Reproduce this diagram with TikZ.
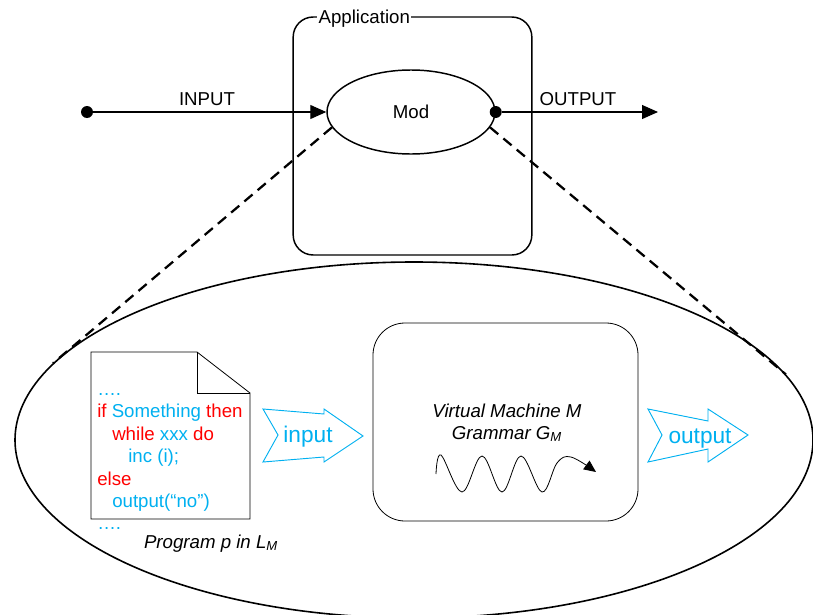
\documentclass[tikz,border=0pt]{standalone}
\usepackage{fontspec}
\setmainfont{Liberation Sans}
\usetikzlibrary{shapes.geometric,arrows.meta}
\definecolor{codered}{RGB}{255,0,0}
\definecolor{codeblue}{RGB}{0,176,240}

\begin{document}
\begin{tikzpicture}[x=0.75pt,y=-0.75pt,
    txt/.style={font=\fontsize{14}{16}\selectfont,inner sep=0pt},
    bigtxt/.style={font=\fontsize{17}{19}\selectfont,inner sep=0pt,text=codeblue},
    dot/.style={circle,fill,inner sep=0pt,minimum size=9pt},
    flow/.style={line width=0.8pt,-{Triangle[length=12pt,width=10.5pt]}},
    zoomline/.style={line width=1.7pt,dash pattern=on 8pt off 5pt},
    blockarrow/.style={draw=codeblue,line width=0.7pt,line join=miter}]
    \useasboundingbox (0,0) rectangle (813,614);
    % Application and its module
    \node[draw,line width=1.1pt,rounded corners=15pt,minimum width=179pt,
        minimum height=178.5pt,inner sep=0pt] (app) at (412.5,136) {};
    \node[txt,fill=white,inner xsep=1pt,inner ysep=1pt,anchor=base west] (applbl) at (317,23) {Application};
    \node[draw,ellipse,line width=1.1pt,minimum width=126pt,minimum height=63pt,
        inner sep=0pt] (mod) at (411,112) {};
    \node[txt,anchor=base] (modlbl) at (411,118) {Mod};
    % Input and output
    \node[dot] (indot) at (87,112) {};
    \node[dot] (outdot) at (mod.east) {};
    \coordinate (outend) at (658,112);
    \draw[flow] (indot) -- (mod.west);
    \draw[flow] (outdot) -- (outend);
    \node[txt,anchor=base] (inlbl) at (207,105) {INPUT};
    \node[txt,anchor=base] (outlbl) at (578,105) {OUTPUT};
    % Zoomed view of the module
    \node[draw,ellipse,line width=1.2pt,minimum width=598.5pt,minimum height=267pt,
        inner sep=0pt] (big) at (414,440) {};
    \draw[zoomline] (mod.191) -- (big.168);
    \draw[zoomline] (mod.-11) -- (big.10);
    % Program sheet
    \draw[line width=0.6pt] (91,352) -- (197,352) -- (250,393) -- (250,519) -- (91,519) -- cycle;
    \draw[line width=0.6pt] (197,352) -- (197,393) -- (250,393);
    \node[txt,anchor=base west,text=codeblue] (l1) at (97,395) {….};
    \node[txt,anchor=base west] (l2) at (97,417) {\color{codered}if \color{codeblue}Something \color{codered}then};
    \node[txt,anchor=base west] (l3) at (112,440) {\color{codered}while \color{codeblue}xxx \color{codered}do};
    \node[txt,anchor=base west,text=codeblue] (l4) at (128,462) {inc (i);};
    \node[txt,anchor=base west,text=codered] (l5) at (97,485) {else};
    \node[txt,anchor=base west,text=codeblue] (l6) at (112,507) {output(“no”)};
    \node[txt,anchor=base west,text=codeblue] (l7) at (97,529) {….};
    \node[txt,anchor=base] (proglbl) at (211,548) {\textit{Program p in L}\textsubscript{\textit{M}}};
    % Block arrows
    \draw[blockarrow] (263,409) -- (324,414) -- (324,409) -- (363,436) -- (324,462)
        -- (324,457) -- (263,462) -- (278,435) -- cycle;
    \node[bigtxt,anchor=base] (inarrow) at (308,442) {input};
    \draw[blockarrow] (648,409) -- (708,421) -- (708,409) -- (748,435) -- (708,462)
        -- (708,449) -- (648,462) -- (662,435) -- cycle;
    \node[bigtxt,anchor=base] (outarrow) at (700,443) {output};
    % Virtual machine
    \node[draw,line width=0.6pt,rounded corners=24pt,minimum width=198.75pt,
        minimum height=148.5pt,inner sep=0pt] (vm) at (505.5,422) {};
    \node[txt,anchor=base] (vmlbl) at (507,417) {\textit{Virtual Machine M}};
    \node[txt,anchor=base] (gramlbl) at (507,439) {\textit{Grammar G}\textsubscript{\textit{M}}};
    \draw[line width=0.6pt,-{Triangle[length=9pt,width=8pt]}] plot[smooth,tension=0.6] coordinates
        {(436,474) (441,455) (462,492) (482,456) (502,492) (521,456) (542,492) (557,463) (571,457) (596,472)};
\end{tikzpicture}
\end{document}
